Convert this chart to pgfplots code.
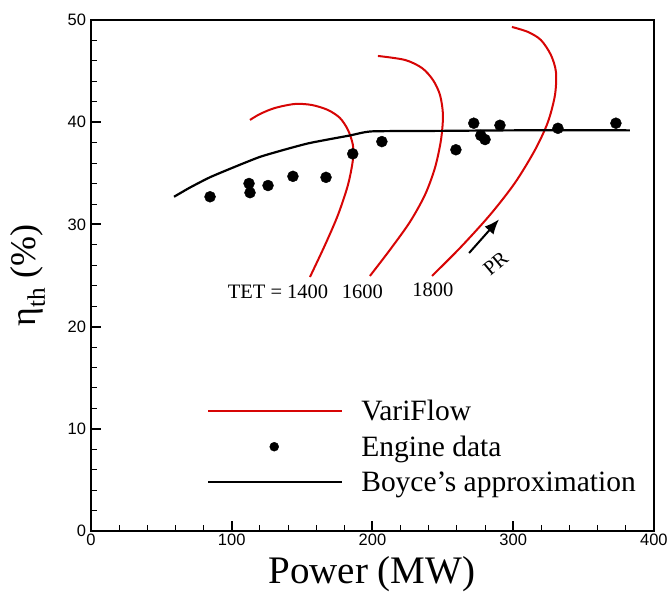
\documentclass[border=0pt]{standalone}
\usepackage{fontspec}
\setmainfont{Liberation Serif}
\setsansfont{Liberation Sans}
\usepackage{pgfplots}
\usetikzlibrary{arrows.meta}
\pgfplotsset{compat=1.18}
\definecolor{vred}{RGB}{215,5,5}
\begin{document}
\begin{tikzpicture}
\begin{axis}[
 scale only axis, width=563pt, height=511pt,
 xmin=0,xmax=400,ymin=0,ymax=50,
 xtick={0,100,...,400}, ytick={0,10,...,50},
 minor x tick num=4, minor y tick num=4,
 tick align=inside, xtick pos=bottom, ytick pos=left,
 major tick length=10pt, minor tick length=6pt,
 axis line style={line width=2.8pt},
 major tick style={black,line width=2pt},
 minor tick style={black,line width=0.8pt},
 tick label style={font=\sffamily\fontsize{16.5}{19}\selectfont},
 yticklabel style={xshift=-1.5pt},
 /pgf/number format/assume math mode=true,
 xlabel={Power (MW)}, ylabel={η\textsubscript{th} (\%)},
 xlabel style={at={(axis description cs:0.499,-0.085)}, anchor=center, font=\fontsize{39}{44}\selectfont},
 ylabel style={at={(axis description cs:-0.112,0.5)}, anchor=center, rotate=0, font=\fontsize{36}{40}\selectfont},
 legend style={at={(axis description cs:0.206,0.261)}, anchor=north west, draw=none, fill=none, inner sep=0pt,
   font=\fontsize{29.5}{34}\selectfont, row sep=10pt,
   /tikz/every odd column/.append style={column sep=17pt}},
 legend cell align=left,
 legend image code/.code={\draw[mark repeat=2,mark phase=2,mark size=4.5pt,#1] plot coordinates {(0pt,0pt) (66pt,0pt) (133pt,0pt)};},
]
% TET = 1400
\addplot[vred, line width=2pt, smooth, tension=0.5] coordinates {
(155.6,24.85) (166.3,27.98) (175.5,30.92) (182.6,33.86) (186.1,36.30) (186.1,37.77)
(182.6,39.24) (176.9,40.41) (168.4,41.19) (157.0,41.68) (144.9,41.78) (130.7,41.39)
(120.1,40.80) (113.0,40.22)};
\addlegendentry{VariFlow}
% TET = 1600
\addplot[vred, line width=2pt, smooth, tension=0.5, forget plot] coordinates {
(198.2,24.95) (212.4,27.50) (226.6,30.23) (237.3,32.88) (244.4,35.52) (248.7,38.26)
(250.1,40.70) (248.0,42.66) (243.0,44.13) (235.2,45.30) (223.1,46.09) (203.9,46.48)};
% TET = 1800
\addplot[vred, line width=2pt, smooth, tension=0.5, forget plot] coordinates {
(242.3,24.95) (262.2,27.69) (283.5,30.92) (301.2,34.05) (315.5,37.28) (324.7,40.02)
(329.7,42.66) (330.4,44.91) (326.8,46.58) (319.7,48.04) (310.5,48.83) (299.1,49.32)};
% Engine data
\addplot[only marks, mark=*, mark size=5.5pt, black] coordinates {
(84.6,32.7) (112.3,34.0) (113.0,33.1) (125.8,33.8) (143.5,34.7) (167.0,34.6)
(186.0,36.9) (206.7,38.1) (259.3,37.3) (272.0,39.9) (277.0,38.7) (280.0,38.3)
(290.6,39.7) (331.8,39.4) (373.0,39.9)};
\addlegendentry{Engine data}
% Boyce
\addplot[black, line width=2.2pt, smooth, tension=0.3] coordinates {
(59,32.7) (70.3,33.6) (86,34.7) (120,36.6) (153.5,37.9) (184,38.7) (199.6,39.1)
(250,39.15) (300,39.2) (383,39.2)};
\addlegendentry{Boyce’s approximation}
\node[font=\fontsize{20.5}{24}\selectfont] at (axis cs:132.9,23.4) {TET = 1400};
\node[font=\fontsize{20.5}{24}\selectfont] at (axis cs:192.9,23.4) {1600};
\node[font=\fontsize{20.5}{24}\selectfont] at (axis cs:243,23.6) {1800};
\node[font=\fontsize{20.5}{24}\selectfont, rotate=40, inner sep=0pt] at (axis cs:287.5,26.2) {PR};
\draw[-{Latex[length=15pt,width=12pt]}, line width=2pt] (axis cs:268.7,27.2) -- (axis cs:290,30.5);
\end{axis}
\path ([shift={(-91pt,-63pt)}]current axis.south west) rectangle ([shift={(17pt,20pt)}]current axis.north east);
\end{tikzpicture}
\end{document}
